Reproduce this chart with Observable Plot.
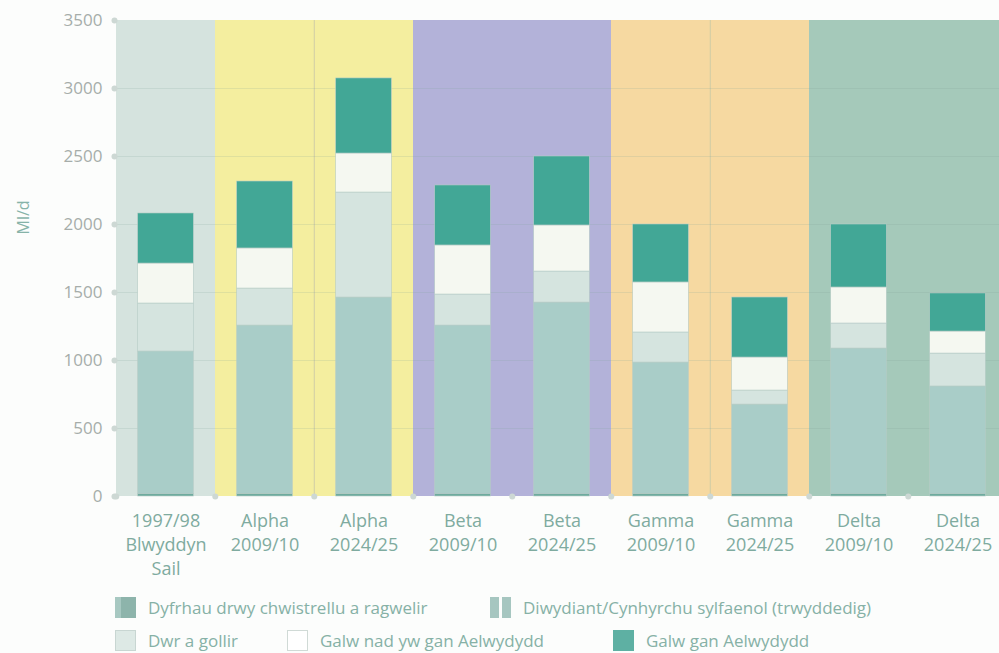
<!DOCTYPE html>
<html>
<head>
<meta charset="utf-8">
<script src="https://cdn.jsdelivr.net/npm/d3@7"></script>
<script src="https://cdn.jsdelivr.net/npm/@observablehq/plot@0.6"></script>
<style>
  html, body { margin: 0; padding: 0; background: #fcfdfc; }
  #wrap { position: relative; width: 999px; height: 653px; overflow: hidden; font-family: "Open Sans", sans-serif; }
  #chart { position: absolute; left: 0; top: 0; }
  .lg { position: absolute; display: flex; align-items: center; color: #86b1a6; font-size: 17px; white-space: nowrap; }
  .sw { width: 21px; height: 21px; margin-right: 12px; box-sizing: border-box; }
</style>
</head>
<body>
<div id="wrap">
  <div id="chart"></div>
  <div id="legend"></div>
</div>
<script>
// ---- data ----
const scenarios = ["Blwyddyn Sail", "Alpha", "Alpha", "Beta", "Beta", "Gamma", "Gamma", "Delta", "Delta"];
const years     = ["1997/98", "2009/10", "2024/25", "2009/10", "2024/25", "2009/10", "2024/25", "2009/10", "2024/25"];
const categories = ["1997/98\nBlwyddyn\nSail", "Alpha\n2009/10", "Alpha\n2024/25", "Beta\n2009/10", "Beta\n2024/25",
                    "Gamma\n2009/10", "Gamma\n2024/25", "Delta\n2009/10", "Delta\n2024/25"];

const seriesNames = [
  "Dyfrhau drwy chwistrellu a ragwelir",
  "Diwydiant/Cynhyrchu sylfaenol (trwyddedig)",
  "Dwr a gollir",
  "Galw nad yw gan Aelwydydd",
  "Galw gan Aelwydydd"
];
const sprayIrrigation = [20, 20, 20, 20, 20, 20, 20, 20, 20];
const industry        = [1046, 1237, 1443, 1237, 1406, 965, 656, 1068, 789];
const leakage         = [353, 272, 772, 228, 228, 221, 103, 184, 242];
const nonHousehold    = [294, 295, 287, 361, 339, 368, 243, 265, 162];
const household       = [368, 492, 552, 441, 507, 426, 441, 463, 280];
const yTicks = [0, 500, 1000, 1500, 2000, 2500, 3000, 3500];
const dividedScenarios = ["Alpha", "Gamma"];

// ---- styles ----
const seriesColors = ["#6eab9e", "#a9cdc8", "#d5e4df", "#f5f8f1", "#42a796"];
const bandColors = {"Blwyddyn Sail": "#d5e3de", "Alpha": "#f4ee9f", "Beta": "#b3b2d9", "Gamma": "#f6d9a1", "Delta": "#a5c9ba"};

const values = [sprayIrrigation, industry, leakage, nonHousehold, household];
const rows = [];
categories.forEach((c, i) => {
  seriesNames.forEach((s, j) => rows.push({cat: c, series: s, value: values[j][i]}));
});

const xRange = [114, 1009];
const step = (xRange[1] - xRange[0]) / categories.length;

const bandMarks = Object.keys(bandColors).map(g =>
  Plot.barY(categories.filter((c, i) => scenarios[i] === g),
    {x: d => d, y1: 0, y2: 3500, fill: bandColors[g]})
);

const innerLines = categories.filter((c, i) =>
  i > 0 && scenarios[i] === scenarios[i - 1] && dividedScenarios.includes(scenarios[i]));

const chart = Plot.plot({
  width: 999,
  height: 590,
  marginTop: 20,
  marginLeft: 114,
  marginRight: 0,
  marginBottom: 94,
  style: {fontFamily: "Open Sans, sans-serif", background: "transparent"},
  x: {type: "band", domain: categories, range: xRange, padding: 0, axis: null},
  y: {domain: [0, 3500], ticks: yTicks},
  color: {domain: seriesNames, range: seriesColors},
  marks: [
    ...bandMarks,
    Plot.ruleX(innerLines, {x: d => d, y1: 0, y2: 3500, dx: -step / 2, stroke: "#cfcda6", strokeWidth: 1}),
    Plot.ruleY(yTicks.slice(1, -1), {stroke: "#7f9f98", strokeOpacity: 0.18, strokeWidth: 1.2}),
    Plot.barY(rows, {x: "cat", y: "value", fill: "series", order: seriesNames,
      insetLeft: 21.7, insetRight: 21.7, stroke: "#b6ccc6", strokeWidth: 0.6}),
    Plot.axisY({ticks: yTicks, tickSize: 0, tickPadding: 12, fontSize: 17, color: "#a6adaa",
      tickFormat: d => String(d), label: null}),
    Plot.text(["Ml/d"], {text: d => d, frameAnchor: "left", dx: -91, dy: -24, rotate: -90,
      fontSize: 16, fill: "#86b3a8"}),
    Plot.dot(yTicks, {y: d => d, frameAnchor: "left", r: 3, fill: "#cdd8d4"}),
    Plot.dot(categories, {x: d => d, y: 0, dx: -step / 2, r: 3, fill: "#cdd8d4"}),
    Plot.text(categories, {x: d => d, text: d => d, frameAnchor: "bottom", lineAnchor: "top",
      dy: 14, lineHeight: 1.32, fontSize: 18, fill: "#7fab9f"})
  ]
});
document.getElementById("chart").appendChild(chart);

// ---- legend ----
const legendItems = [
  {name: seriesNames[0], left: 115, top: 597, sw: `<div class="sw" style="background:linear-gradient(90deg,#a7c8c1 0 30%,#8db4ab 30% 100%)"></div>`},
  {name: seriesNames[1], left: 490, top: 597, sw: `<div class="sw" style="background:linear-gradient(90deg,#a6c6c0 0 42%,#fcfdfc 42% 58%,#a6c6c0 58% 100%)"></div>`},
  {name: seriesNames[2], left: 115, top: 630, sw: `<div class="sw" style="background:#dde9e5;border:1px solid #c8d6d2"></div>`},
  {name: seriesNames[3], left: 287, top: 630, sw: `<div class="sw" style="background:#ffffff;border:1px solid #d0dad6"></div>`},
  {name: seriesNames[4], left: 613, top: 630, sw: `<div class="sw" style="background:#5eb0a3"></div>`}
];
const lg = document.getElementById("legend");
legendItems.forEach(it => {
  const d = document.createElement("div");
  d.className = "lg";
  d.style.left = it.left + "px";
  d.style.top = it.top + "px";
  d.style.height = "21px";
  d.innerHTML = it.sw + `<span>${it.name}</span>`;
  lg.appendChild(d);
});
</script>
</body>
</html>
